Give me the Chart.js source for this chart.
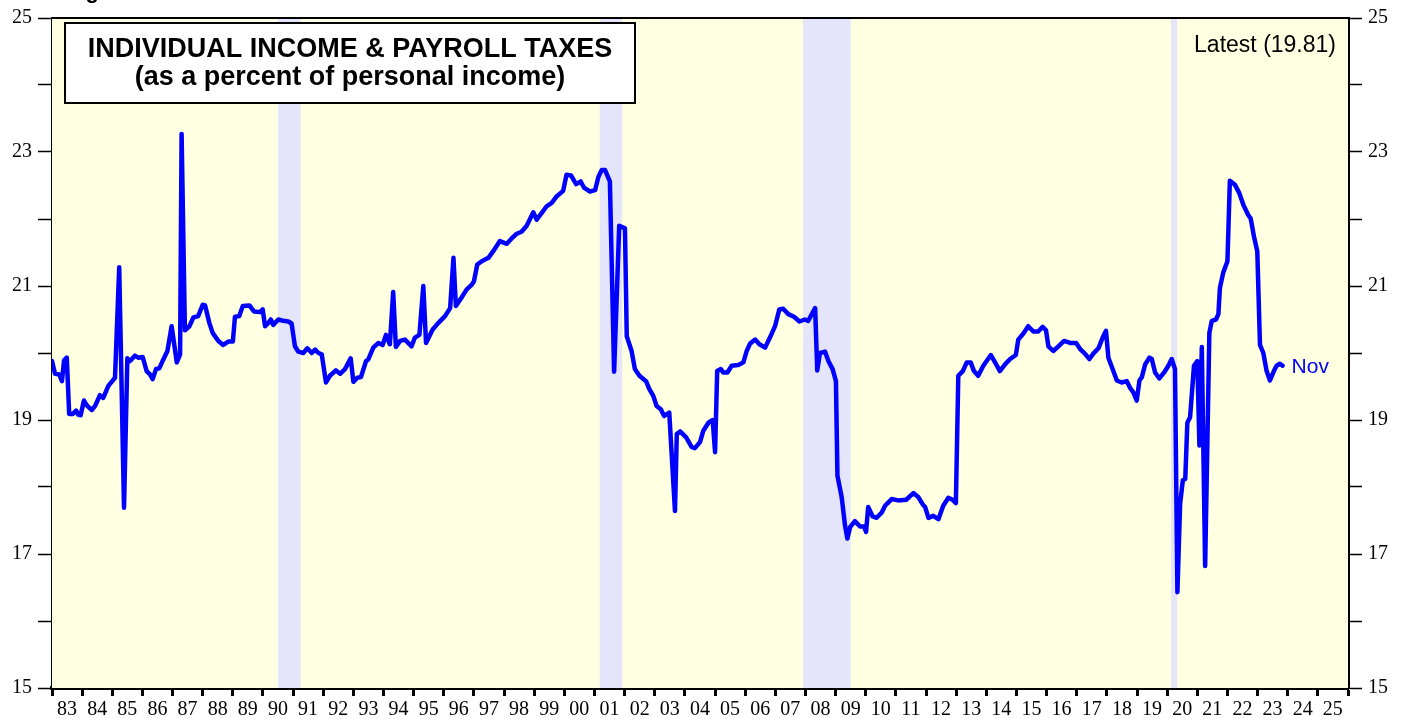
<!DOCTYPE html>
<html>
<head>
<meta charset="utf-8">
<script src="https://cdn.jsdelivr.net/npm/chart.js@4.4.1/dist/chart.umd.min.js"></script>
<style>
  body { margin: 0; background: #fff; }
  #wrap { width: 1408px; height: 719px; position: relative; }
</style>
</head>
<body>
<div id="wrap"><canvas id="taxChart"></canvas></div>
<script>
// monthly readings (decimal year) of individual income & payroll taxes, % of personal income
const dates = [
  1983.00, 1983.10, 1983.24, 1983.33, 1983.40, 1983.49, 1983.57, 1983.69, 1983.80, 1983.87, 1983.95,
  1984.06, 1984.17, 1984.32, 1984.43, 1984.59, 1984.70, 1984.87,
  1985.09, 1985.23, 1985.39, 1985.50, 1985.59, 1985.75, 1985.86,
  1986.01, 1986.14, 1986.25, 1986.34, 1986.45, 1986.56, 1986.69, 1986.83, 1986.97,
  1987.14, 1987.25, 1987.30, 1987.41, 1987.56, 1987.69, 1987.85,
  1988.00, 1988.08, 1988.22, 1988.33, 1988.52, 1988.68, 1988.85,
  1989.00, 1989.07, 1989.21, 1989.33, 1989.55, 1989.70, 1989.90, 1989.99,
  1990.07, 1990.18, 1990.26, 1990.34, 1990.51, 1990.67, 1990.84, 1990.95,
  1991.06, 1991.17, 1991.34, 1991.47, 1991.62, 1991.73, 1991.84, 1991.95,
  1992.09, 1992.22, 1992.42, 1992.56, 1992.72, 1992.91,
  1993.00, 1993.13, 1993.25, 1993.42, 1993.49, 1993.66, 1993.83, 1993.97,
  1994.08, 1994.21, 1994.32, 1994.41, 1994.55, 1994.71, 1994.93,
  1995.04, 1995.19, 1995.32, 1995.41, 1995.63, 1995.82,
  1996.04, 1996.21, 1996.32, 1996.40, 1996.59, 1996.76, 1996.93,
  1997.00, 1997.11, 1997.26, 1997.48, 1997.64, 1997.86,
  1998.09, 1998.25, 1998.42, 1998.58, 1998.75, 1998.97,
  1999.08, 1999.25, 1999.41, 1999.58, 1999.75, 1999.96,
  2000.07, 2000.22, 2000.39, 2000.54, 2000.65, 2000.85,
  2001.02, 2001.13, 2001.24, 2001.35, 2001.51, 2001.65, 2001.82,
  2002.01, 2002.07, 2002.23, 2002.34, 2002.49, 2002.71, 2002.82, 2002.95,
  2003.06, 2003.20, 2003.31, 2003.48, 2003.67, 2003.73, 2003.84,
  2004.04, 2004.22, 2004.33, 2004.50, 2004.61, 2004.78, 2004.92,
  2005.00, 2005.07, 2005.19, 2005.27, 2005.41, 2005.55, 2005.77, 2005.94,
  2006.05, 2006.16, 2006.33, 2006.47, 2006.66, 2006.82, 2006.99,
  2007.13, 2007.26, 2007.43, 2007.62, 2007.80, 2007.98,
  2008.09, 2008.32, 2008.39, 2008.48, 2008.65, 2008.76, 2008.90,
  2009.01, 2009.06, 2009.20, 2009.31, 2009.39, 2009.48, 2009.64, 2009.81, 2009.94,
  2010.01, 2010.08, 2010.23, 2010.36, 2010.53, 2010.64, 2010.86,
  2011.08, 2011.34, 2011.58, 2011.74, 2011.89, 2011.97,
  2012.08, 2012.24, 2012.41, 2012.57, 2012.74, 2012.88, 2012.99,
  2013.07, 2013.22, 2013.35, 2013.48, 2013.59, 2013.73, 2013.90,
  2014.15, 2014.29, 2014.45, 2014.62, 2014.79, 2014.98,
  2015.06, 2015.23, 2015.39, 2015.56, 2015.72, 2015.87, 2015.98,
  2016.06, 2016.22, 2016.39, 2016.58, 2016.78, 2016.98,
  2017.13, 2017.27, 2017.42, 2017.55, 2017.72, 2017.86, 2017.97,
  2018.05, 2018.19, 2018.33, 2018.49, 2018.66, 2018.77, 2018.88, 2018.99,
  2019.08, 2019.16, 2019.27, 2019.41, 2019.49, 2019.60, 2019.74, 2019.90,
  2020.04, 2020.15, 2020.26, 2020.34, 2020.43, 2020.52, 2020.60, 2020.67, 2020.76, 2020.89,
  2021.00, 2021.07, 2021.15, 2021.26, 2021.40, 2021.48, 2021.62, 2021.70, 2021.75, 2021.86,
  2022.00, 2022.08, 2022.25, 2022.39, 2022.53, 2022.69, 2022.77, 2022.88, 2022.99,
  2023.08, 2023.19, 2023.30, 2023.41, 2023.54, 2023.63, 2023.74, 2023.83
];
const taxShare = [
  19.88, 19.69, 19.68, 19.58, 19.89, 19.93, 19.09, 19.09, 19.14, 19.08, 19.07,
  19.29, 19.21, 19.15, 19.21, 19.37, 19.33, 19.51,
  19.63, 21.28, 17.69, 19.92, 19.88, 19.96, 19.93,
  19.94, 19.73, 19.68, 19.61, 19.76, 19.77, 19.90, 20.03, 20.40,
  19.86, 19.98, 23.27, 20.34, 20.40, 20.53, 20.55,
  20.72, 20.71, 20.45, 20.30, 20.18, 20.12, 20.17,
  20.17, 20.54, 20.55, 20.70, 20.71, 20.62, 20.61, 20.65,
  20.40, 20.45, 20.50, 20.42, 20.50, 20.48, 20.47, 20.44,
  20.10, 20.02, 20.00, 20.07, 20.00, 20.05, 20.00, 19.98,
  19.56, 19.66, 19.74, 19.69, 19.76, 19.92,
  19.57, 19.63, 19.64, 19.88, 19.90, 20.08, 20.15, 20.12,
  20.27, 20.13, 20.91, 20.09, 20.18, 20.20, 20.10,
  20.23, 20.27, 21.00, 20.15, 20.35, 20.45,
  20.55, 20.67, 21.42, 20.70, 20.83, 20.95, 21.02,
  21.07, 21.32, 21.37, 21.42, 21.52, 21.67,
  21.63, 21.71, 21.78, 21.81, 21.90, 22.10,
  21.99, 22.09, 22.19, 22.24, 22.34, 22.42,
  22.66, 22.65, 22.52, 22.56, 22.47, 22.41,
  22.43, 22.63, 22.73, 22.73, 22.56, 19.72, 21.90,
  21.86, 20.25, 20.03, 19.76, 19.66, 19.58, 19.46, 19.36,
  19.21, 19.16, 19.06, 19.11, 17.64, 18.79, 18.83,
  18.74, 18.60, 18.58, 18.67, 18.84, 18.96, 19.00,
  18.52, 19.73, 19.76, 19.71, 19.71, 19.81, 19.82, 19.86,
  20.03, 20.14, 20.20, 20.13, 20.08, 20.23, 20.40,
  20.65, 20.66, 20.58, 20.54, 20.47, 20.50,
  20.48, 20.67, 19.74, 20.00, 20.02, 19.88, 19.76,
  19.58, 18.17, 17.85, 17.43, 17.23, 17.40, 17.49, 17.41, 17.41,
  17.33, 17.70, 17.56, 17.54, 17.62, 17.72, 17.82,
  17.80, 17.81, 17.91, 17.85, 17.74, 17.70,
  17.54, 17.57, 17.52, 17.72, 17.84, 17.81, 17.76,
  19.66, 19.73, 19.86, 19.86, 19.73, 19.66, 19.81,
  19.97, 19.86, 19.73, 19.83, 19.91, 19.97,
  20.20, 20.29, 20.40, 20.32, 20.32, 20.39, 20.34,
  20.10, 20.03, 20.10, 20.18, 20.15, 20.15,
  20.05, 19.99, 19.91, 19.99, 20.07, 20.23, 20.33,
  19.93, 19.76, 19.59, 19.56, 19.58, 19.48, 19.41, 19.29,
  19.59, 19.64, 19.83, 19.93, 19.91, 19.71, 19.62, 19.71,
  19.81, 19.91, 19.76, 16.43, 17.75, 18.10, 18.12, 18.96, 19.04, 19.81,
  19.88, 18.62, 20.09, 16.82, 20.30, 20.48, 20.50, 20.58, 20.97, 21.20,
  21.37, 22.57, 22.51, 22.39, 22.21, 22.06, 22.01, 21.74, 21.52,
  20.12, 20.00, 19.73, 19.59, 19.73, 19.81, 19.84, 19.81
];

// recessions (decimal year start / end)
const recStart = [1990.50, 2001.17, 2007.92, 2020.13];
const recEnd   = [1991.25, 2001.92, 2009.50, 2020.33];

const yearLabels = ["83","84","85","86","87","88","89","90","91","92","93","94","95","96","97","98","99",
  "00","01","02","03","04","05","06","07","08","09","10","11","12","13","14","15","16","17","18","19",
  "20","21","22","23","24","25"];
const yTickLabels = { 15: "15", 17: "17", 19: "19", 21: "21", 23: "23", 25: "25" };

const titleLines = ["INDIVIDUAL INCOME & PAYROLL TAXES", "(as a percent of personal income)"];
const latestText = "Latest (19.81)";
const lastMonth = "Nov";

const serif = "'Liberation Serif', 'Times New Roman', serif";
const sans = "'Liberation Sans', Arial, sans-serif";

// background, recession bands, title box and annotations
const decorPlugin = {
  id: "decor",
  beforeDatasetsDraw(chart) {
    const { ctx, chartArea: a, scales: { x } } = chart;
    ctx.save();
    ctx.fillStyle = "#ffffe2";
    ctx.fillRect(a.left, a.top, a.right - a.left, a.bottom - a.top);
    ctx.fillStyle = "#e4e4fa";
    recStart.forEach((s, i) => {
      const x0 = x.getPixelForValue(s);
      const x1 = x.getPixelForValue(recEnd[i]);
      ctx.fillRect(x0, a.top, x1 - x0, a.bottom - a.top);
    });
    ctx.restore();
  },
  afterDraw(chart) {
    const { ctx, chartArea: a, scales: { x, y } } = chart;
    ctx.save();
    // top frame line
    ctx.strokeStyle = "#000";
    ctx.lineWidth = 2;
    ctx.beginPath();
    ctx.moveTo(a.left, a.top);
    ctx.lineTo(a.right, a.top);
    ctx.stroke();

    // title box
    ctx.fillStyle = "#fff";
    ctx.fillRect(65, 23, 570, 80);
    ctx.lineWidth = 2;
    ctx.strokeRect(65, 23, 570, 80);
    ctx.fillStyle = "#000";
    ctx.font = "bold 27px " + sans;
    ctx.textAlign = "center";
    ctx.textBaseline = "middle";
    ctx.fillText(titleLines[0], 350, 50);
    ctx.fillText(titleLines[1], 350, 78);

    // latest value
    ctx.font = "23px " + sans;
    ctx.textAlign = "right";
    ctx.fillText(latestText, 1336, 46);

    // last month label next to the end of the line
    const n = dates.length - 1;
    ctx.fillStyle = "#0000ff";
    ctx.font = "21px " + sans;
    ctx.textAlign = "left";
    ctx.fillText(lastMonth, x.getPixelForValue(dates[n]) + 9, y.getPixelForValue(taxShare[n]) + 1);

    // figure caption cut off at top edge
    ctx.fillStyle = "#000";
    ctx.font = "bold 22px " + sans;
    ctx.textBaseline = "alphabetic";
    ctx.fillText("Figure 3.", 66, -2);
    ctx.restore();
  }
};

const points = dates.map((d, i) => ({ x: d, y: taxShare[i] }));

const yAxis = (pos) => ({
  type: "linear",
  position: pos,
  display: true,
  min: 15,
  max: 25,
  afterFit: s => { s.width = pos === "left" ? 52 : 60; },
  border: { display: true, color: "#000", width: 3 },
  grid: { drawOnChartArea: false, drawTicks: true, tickLength: 14, color: "#000", tickWidth: 1.5 },
  ticks: {
    stepSize: 1,
    color: "#000",
    padding: 6,
    font: { family: serif, size: 20 },
    callback: v => yTickLabels[v] || ""
  }
});

new Chart(document.getElementById("taxChart"), {
  type: "line",
  data: {
    datasets: [{
      data: points,
      borderColor: "#0000ff",
      borderWidth: 4.5,
      borderJoinStyle: "round",
      borderCapStyle: "round",
      pointRadius: 0,
      tension: 0,
      fill: false,
      yAxisID: "y"
    }]
  },
  options: {
    responsive: true,
    maintainAspectRatio: false,
    animation: false,
    layout: { padding: { top: 16, left: 0, right: 0, bottom: 0 } },
    plugins: { legend: { display: false }, tooltip: { enabled: false } },
    scales: {
      x: {
        type: "linear",
        min: 1983,
        max: 2026,
        afterFit: s => { s.height = 31; },
        border: { display: true, color: "#000", width: 4 },
        grid: { drawOnChartArea: false, drawTicks: true, tickLength: 8, color: "#000", tickWidth: 3 },
        ticks: {
          stepSize: 1,
          autoSkip: false,
          maxRotation: 0,
          color: "#000",
          padding: 2,
          labelOffset: 15,
          font: { family: serif, size: 20 },
          callback: v => yearLabels[v - 1983] || ""
        }
      },
      y: yAxis("left"),
      y2: yAxis("right")
    }
  },
  plugins: [decorPlugin]
});
</script>
</body>
</html>
